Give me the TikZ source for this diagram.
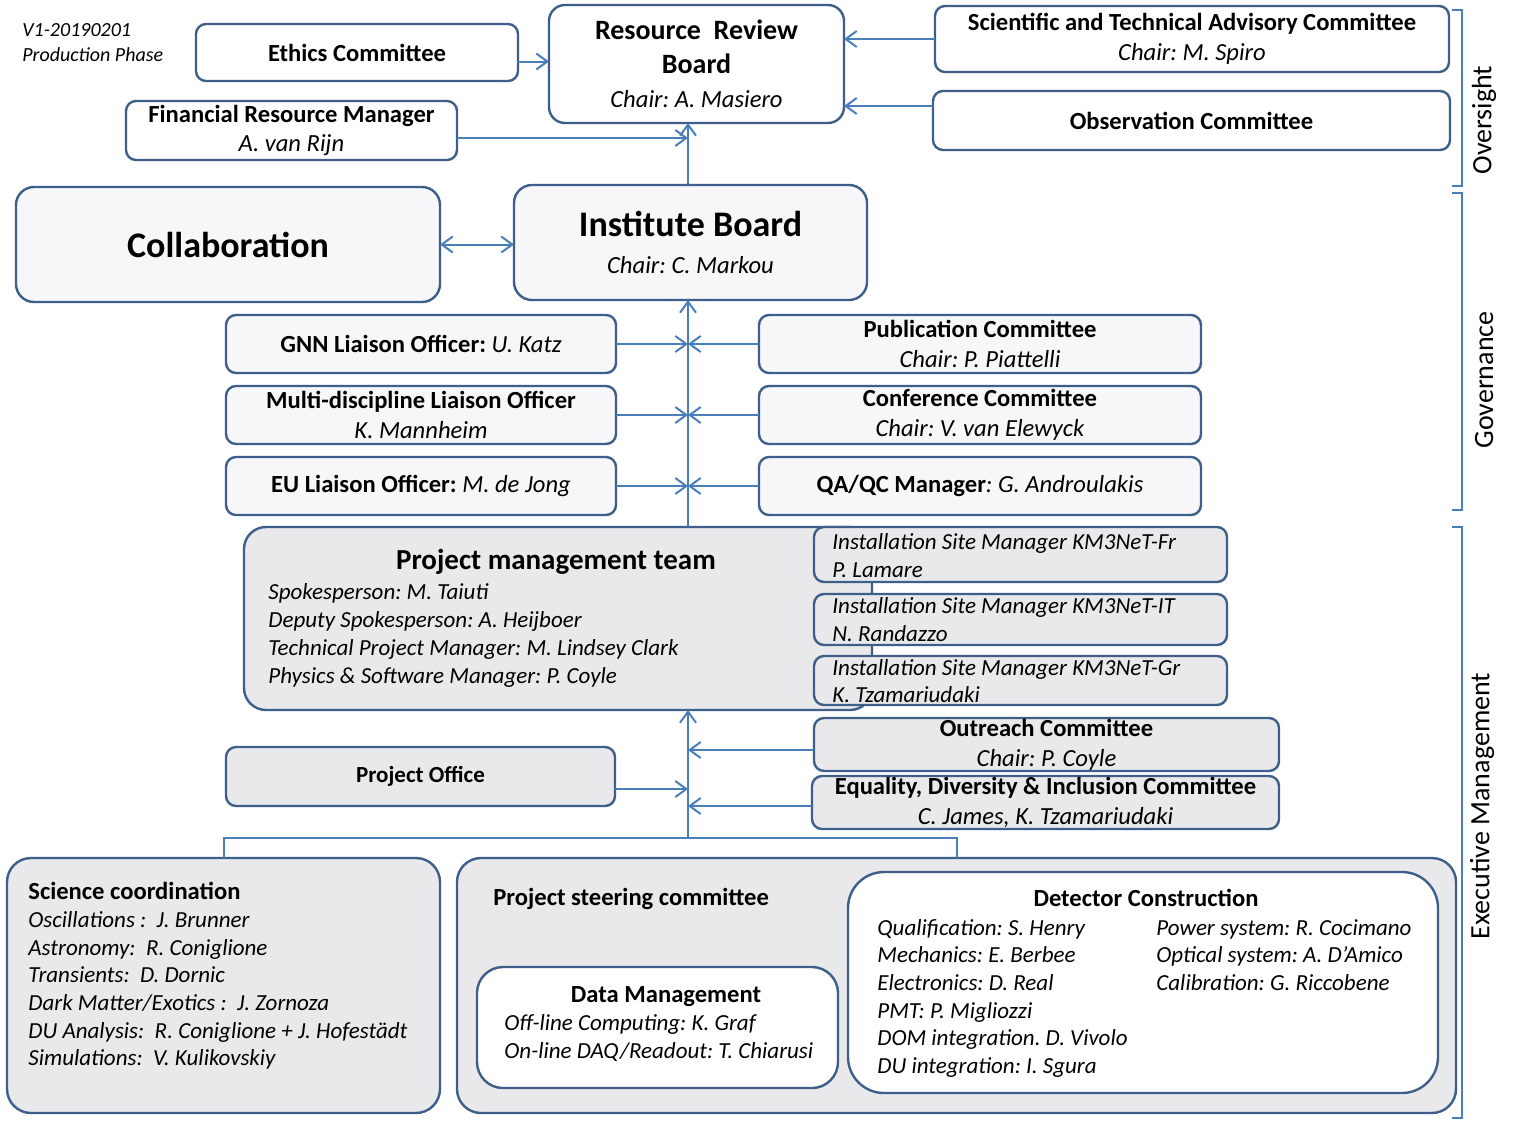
\documentclass[tikz,border=0pt]{standalone}
\usepackage{fontspec}
\setmainfont{Carlito}
\usetikzlibrary{arrows.meta,calc}
\definecolor{bordercol}{HTML}{3F5F8B}
\definecolor{arrcol}{HTML}{4A7EBB}
\definecolor{lightfill}{HTML}{F7F7F9}
\definecolor{grayfill}{HTML}{E9E9EB}
\newcommand\fz[2]{\fontsize{#1pt}{#2pt}\selectfont}
\newcommand\nm[1]{{\mdseries\itshape #1}}
\newcommand\bx[7]{\node[#6, minimum width={(#4-#2)*0.5pt}, minimum height={(#5-#3)*0.5pt}] (#1) at ({(#2+#4)/2},{(#3+#5)/2}) {#7};}
\tikzset{
  box/.style={draw=bordercol, line width=1.2pt, rounded corners=5pt, inner sep=0pt, outer sep=0pt, align=center, fill=white, font=\fz{12.3}{15}\bfseries},
  lbox/.style={box, fill=lightfill},
  gbox/.style={box, fill=grayfill},
  arr/.style={draw=arrcol, line width=1pt, -{Straight Barb[length=5.5pt,width=8pt]}},
  darr/.style={draw=arrcol, line width=1pt, {Straight Barb[length=5.5pt,width=8pt]}-{Straight Barb[length=5.5pt,width=8pt]}},
  conn/.style={draw=arrcol, line width=1pt},
  brk/.style={draw=arrcol, line width=0.9pt},
  lst/.style={anchor=base west, inner sep=0pt, font=\fz{11.5}{14}\itshape},
  ttl/.style={inner sep=0pt, font=\fz{12.3}{15}\bfseries},
  side/.style={rotate=90, inner sep=0pt, font=\fz{14}{16}}
}
\begin{document}
\frenchspacing
\begin{tikzpicture}[x=0.5pt,y=-0.5pt]
\useasboundingbox (0,0) rectangle (1518,1120);
\fill[white] (0,0) rectangle (1518,1120);

% version
\node[anchor=base west, inner sep=0pt, font=\fz{10}{12}\itshape] (ver) at (22,36) {V1-20190201};
\node[anchor=base west, inner sep=0pt, font=\fz{10}{12}\itshape] (phase) at (22,61) {Production Phase};

% oversight
\bx{ethics}{196}{24}{518}{81}{box}{Ethics Committee}
\bx{rrb}{549}{5}{844}{123}{box, rounded corners=8pt, font=\fz{14}{17}\bfseries}{Resource\ \ Review\\Board\\\nm{\fz{12.3}{15}Chair: A. Masiero}}
\bx{stac}{935}{6}{1449}{72}{box}{Scientific and Technical Advisory Committee\\\nm{Chair: M. Spiro}}
\bx{obs}{933}{91}{1450}{150}{box}{Observation Committee}
\bx{frm}{126}{101}{457}{160}{box, font=\fz{12.3}{14.5}\bfseries}{Financial Resource Manager\\\nm{A. van Rijn}}

% governance
\bx{collab}{16}{187}{440}{302}{lbox, rounded corners=9pt, font=\fz{18}{20}\bfseries}{Collaboration}
\bx{ib}{514}{185}{867}{300}{lbox, rounded corners=9pt, font=\fz{18}{18.5}\bfseries}{Institute Board\\\nm{\fz{12.3}{15}Chair: C. Markou}}
\bx{gnn}{226}{315}{616}{373}{lbox}{GNN Liaison Officer: \nm{U. Katz}}
\bx{mdl}{226}{386}{616}{444}{lbox}{Multi-discipline Liaison Officer\\\nm{K. Mannheim}}
\bx{eul}{226}{457}{616}{515}{lbox}{EU Liaison Officer: \nm{M. de Jong}}
\bx{pub}{759}{315}{1201}{373}{lbox}{Publication Committee\\\nm{Chair: P. Piattelli}}
\bx{conf}{759}{386}{1201}{444}{lbox}{Conference Committee\\\nm{Chair: V. van Elewyck}}
\bx{qa}{759}{457}{1201}{515}{lbox}{QA/QC Manager\nm{: G. Androulakis}}

% executive
\bx{pmt}{244}{527}{872}{710}{gbox, rounded corners=11pt}{}
\node[anchor=base, inner sep=0pt, font=\fz{14.5}{16}\bfseries] (pmtt) at (556,569) {Project management team};
\node[lst] (pm1) at (268,599) {Spokesperson: M. Taiuti};
\node[lst] (pm2) at (268,627) {Deputy Spokesperson: A. Heijboer};
\node[lst] (pm3) at (268,655) {Technical Project Manager: M. Lindsey Clark};
\node[lst] (pm4) at (268,683) {Physics \& Software Manager: P. Coyle};

\bx{isfr}{814}{527}{1227}{582}{gbox}{}
\node[lst] (isfr1) at (832,549) {Installation Site Manager KM3NeT-Fr};
\node[lst] (isfr2) at (832,577) {P. Lamare};
\bx{isit}{814}{594}{1227}{645}{gbox}{}
\node[lst] (isit1) at (832,613) {Installation Site Manager KM3NeT-IT};
\node[lst] (isit2) at (832,641) {N. Randazzo};
\bx{isgr}{814}{656}{1227}{705}{gbox}{}
\node[lst] (isgr1) at (832,675) {Installation Site Manager KM3NeT-Gr};
\node[lst] (isgr2) at (832,702) {K. Tzamariudaki};

\bx{outr}{814}{718}{1279}{771}{gbox}{Outreach Committee\\\nm{Chair: P. Coyle}}
\bx{edi}{812}{776}{1279}{829}{gbox}{Equality, Diversity \& Inclusion Committee\\\nm{C. James, K. Tzamariudaki}}
\bx{po}{226}{747}{615}{806}{gbox, font=\fz{11.5}{14}\bfseries}{Project Office}

\bx{sci}{7}{858}{440}{1113}{gbox, rounded corners=12pt}{}
\node[ttl, anchor=base west] (scit) at (28,899) {Science coordination};
\node[lst] (sc1) at (28,927) {Oscillations :\ \ J. Brunner};
\node[lst] (sc2) at (28,955) {Astronomy:\ \ R. Coniglione};
\node[lst] (sc3) at (28,982) {Transients:\ \ D. Dornic};
\node[lst] (sc4) at (28,1010) {Dark Matter/Exotics :\ \ J. Zornoza};
\node[lst] (sc5) at (28,1038) {DU Analysis:\ \ R. Coniglione + J. Hofestädt};
\node[lst] (sc6) at (28,1065) {Simulations:\ \ V. Kulikovskiy};

\bx{psc}{457}{858}{1456}{1113}{gbox, rounded corners=12pt}{}
\node[ttl, anchor=base west] (psct) at (493,905) {Project steering committee};

\bx{dm}{477}{967}{838}{1088}{box, rounded corners=13pt}{}
\node[ttl, anchor=base] (dmt) at (666,1002) {Data Management};
\node[lst] (dm1) at (504,1030) {Off-line Computing: K. Graf};
\node[lst] (dm2) at (504,1058) {On-line DAQ/Readout: T. Chiarusi};

\bx{dc}{848}{872}{1438}{1093}{box, rounded corners=18pt}{}
\node[ttl, anchor=base] (dct) at (1146,906) {Detector Construction};
\node[lst] (dc1) at (877,935) {Qualification: S. Henry};
\node[lst] (dc2) at (877,962) {Mechanics: E. Berbee};
\node[lst] (dc3) at (877,990) {Electronics: D. Real};
\node[lst] (dc4) at (877,1018) {PMT: P. Migliozzi};
\node[lst] (dc5) at (877,1045) {DOM integration. D. Vivolo};
\node[lst] (dc6) at (877,1073) {DU integration: I. Sgura};
\node[lst] (dc7) at (1156,935) {Power system: R. Cocimano};
\node[lst] (dc8) at (1156,962) {Optical system: A. D’Amico};
\node[lst] (dc9) at (1156,990) {Calibration: G. Riccobene};

% side labels and brackets
\draw[brk] (1452,10) -- (1462,10) -- (1462,186) -- (1452,186);
\draw[brk] (1452,193) -- (1462,193) -- (1462,510) -- (1452,510);
\draw[brk] (1452,527) -- (1462,527) -- (1462,1118) -- (1452,1118);
\node[side] (ovs) at (1484,120) {Oversight};
\node[side] (gov) at (1484,380) {Governance};
\node[side] (exm) at (1482,806) {Executive Management};

% connectors
\coordinate (spine) at (688,0);
\coordinate (e1) at ([yshift=-4.5pt]ethics.east);
\draw[arr] (e1) -- (e1 -| rrb.west);
\draw[arr] (stac.west) -- (stac.west -| rrb.east);
\coordinate (o1) at ([yshift=7.25pt]obs.west);
\draw[arr] (o1) -- (o1 -| rrb.east);
\coordinate (f1) at ([yshift=-3.75pt]frm.east);
\draw[arr] (f1) -- (f1 -| spine);
\draw[arr] (ib.north -| spine) -- (rrb.south -| spine);
\draw[darr] (collab.east) -- (collab.east -| ib.west);
\draw[arr] (pmt.north -| spine) -- (ib.south -| spine);
\foreach \n in {gnn,mdl,eul,pub,conf,qa} \draw[arr] (\n) -- (\n -| spine);
\coordinate (bus) at (688,838);
\draw[conn] (sci.north) -- (sci.north |- bus) -- (psc.north |- bus) -- (psc.north);
\draw[arr] (bus) -- (pmt.south -| spine);
\coordinate (p1) at ([yshift=-6.25pt]po.east);
\draw[arr] (p1) -- (p1 -| spine);
\coordinate (r1) at ([yshift=-2.75pt]outr.west);
\draw[arr] (r1) -- (r1 -| spine);
\coordinate (q1) at ([yshift=-1.75pt]edi.west);
\draw[arr] (q1) -- (q1 -| spine);
\end{tikzpicture}
\end{document}
